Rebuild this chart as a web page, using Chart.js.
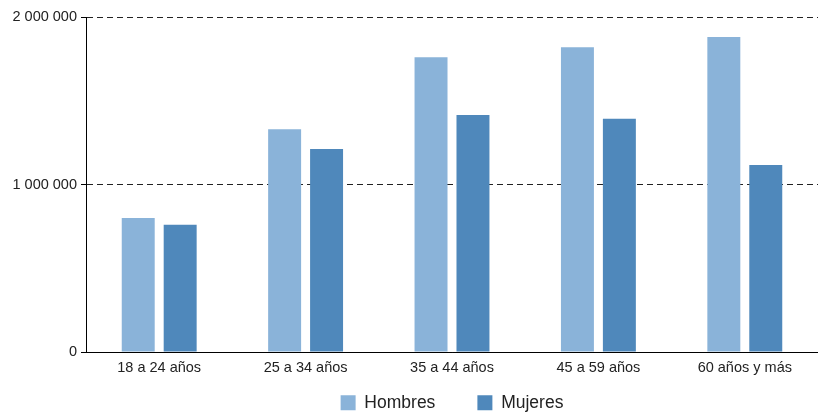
<!DOCTYPE html>
<html>
<head>
<meta charset="utf-8">
<script src="https://cdn.jsdelivr.net/npm/chart.js@4"></script>
<style>
  html, body { margin: 0; padding: 0; background: #fff; }
  #wrap { width: 818px; height: 412px; }
</style>
</head>
<body>
<div id="wrap"><canvas id="chart"></canvas></div>
<script>
// Data
const ageGroups = ['18 a 24 años', '25 a 34 años', '35 a 44 años', '45 a 59 años', '60 años y más'];
const hombres = [800000, 1330000, 1760000, 1820000, 1880000];
const mujeres = [760000, 1212000, 1415000, 1392000, 1116000];
const yTicks = [0, 1000000, 2000000];

function formatSpaces(v) {
    return String(v).replace(/\B(?=(\d{3})+(?!\d))/g, ' ');
}

Chart.defaults.font.family = '"Liberation Sans", Arial, sans-serif';
Chart.defaults.color = '#222';

const ctx = document.getElementById('chart').getContext('2d');
new Chart(ctx, {
    type: 'bar',
    data: {
        labels: ageGroups,
        datasets: [{
            label: 'Hombres',
            data: hombres,
            backgroundColor: '#8ab3d9'
        }, {
            label: 'Mujeres',
            data: mujeres,
            backgroundColor: '#4f88bb'
        }]
    },
    options: {
        responsive: true,
        maintainAspectRatio: false,
        animation: false,
        layout: { padding: { top: 17, right: 0, bottom: 0, left: 0 } },
        datasets: {
            bar: { categoryPercentage: 0.573, barPercentage: 0.786 }
        },
        plugins: {
            legend: {
                position: 'bottom',
                fullSize: false,
                maxHeight: 26,
                labels: {
                    font: { size: 17.5 },
                    color: '#222',
                    boxWidth: 15,
                    boxHeight: 15,
                    padding: 8,
                    // wider gap between the two entries
                    generateLabels: chart => {
                        const items = Chart.defaults.plugins.legend.labels.generateLabels(chart);
                        items[0].text = items[0].text + '\u00a0'.repeat(7);
                        return items;
                    }
                }
            },
            tooltip: { enabled: false }
        },
        scales: {
            x: {
                afterFit: s => { s.height = 34; },
                grid: { display: false, drawTicks: false },
                border: { color: '#000', width: 1 },
                ticks: { font: { size: 14.5 }, color: '#222', padding: 7 }
            },
            y: {
                min: 0,
                max: 2000000,
                afterFit: s => { s.width = 86; },
                afterBuildTicks: s => { s.ticks = yTicks.map(v => ({ value: v })); },
                grid: {
                    color: '#222',
                    tickColor: '#000',
                    tickLength: 5,
                    tickBorderDash: []
                },
                border: { color: '#000', width: 1, dash: [6, 4] },
                ticks: {
                    font: { size: 14.5 },
                    color: '#222',
                    padding: 4,
                    callback: v => formatSpaces(v)
                }
            }
        }
    }
});
</script>
</body>
</html>
